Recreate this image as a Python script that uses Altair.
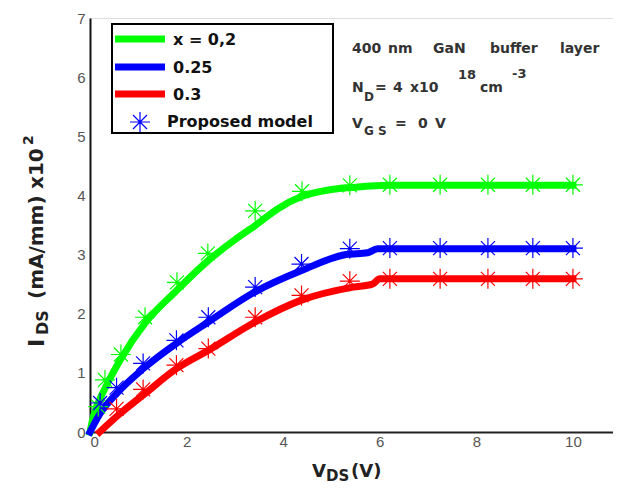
import altair as alt
import pandas as pd

# ---------------- data ----------------
v_green_line = [0, 0.07, 0.3, 0.62, 1.14, 1.79, 2.45, 3.0, 3.42, 3.9, 4.38, 5.0, 5.5, 6.2, 10]
i_green_line = [0, 0.26, 0.72, 1.21, 1.84, 2.39, 2.9, 3.25, 3.49, 3.78, 3.98, 4.1, 4.14, 4.17, 4.17]
v_blue_line = [0, 0.2, 0.55, 1.1, 1.79, 2.45, 3.42, 4.38, 5.3, 5.75, 5.95, 10]
i_blue_line = [0, 0.3, 0.65, 1.07, 1.5, 1.86, 2.37, 2.73, 3.0, 3.03, 3.1, 3.1]
v_red_line = [0.2, 0.62, 1.14, 1.79, 2.45, 3.42, 4.38, 5.45, 5.85, 6.0, 10]
i_red_line = [0, 0.31, 0.65, 1.07, 1.38, 1.86, 2.23, 2.45, 2.5, 2.59, 2.59]

v_green_pts = [0.17, 0.31, 0.64, 1.14, 1.80, 2.44, 3.42, 4.39, 5.38, 6.21, 7.25, 8.24, 9.17, 10.0]
i_green_pts = [0.43, 0.88, 1.31, 1.94, 2.53, 3.02, 3.74, 4.07, 4.17, 4.18, 4.18, 4.18, 4.18, 4.18]
v_blue_pts = [0.21, 0.55, 1.10, 1.79, 2.45, 3.42, 4.38, 5.38, 6.21, 7.25, 8.24, 9.17, 10.0]
i_blue_pts = [0.49, 0.75, 1.16, 1.55, 1.94, 2.45, 2.84, 3.10, 3.11, 3.11, 3.11, 3.11, 3.11]
v_red_pts = [0.55, 1.10, 1.79, 2.45, 3.42, 4.38, 5.38, 6.21, 7.25, 8.24, 9.17, 10.0]
i_red_pts = [0.39, 0.72, 1.13, 1.41, 1.94, 2.31, 2.55, 2.59, 2.59, 2.59, 2.59, 2.59]

series_names = ["0.2", "0.25", "0.3"]
series_colors = ["#00ff00", "#0000ff", "#ff0000"]
legend_labels = ["x = 0,2", "0.25", "0.3", "Proposed model"]
x_ticks = [0, 2, 4, 6, 8, 10]
y_ticks = [0, 1, 2, 3, 4, 5, 6, 7]

# ---------------- tables ----------------
lines = pd.concat([
    pd.DataFrame({"v": v_green_line, "i": i_green_line, "s": series_names[0]}),
    pd.DataFrame({"v": v_blue_line, "i": i_blue_line, "s": series_names[1]}),
    pd.DataFrame({"v": v_red_line, "i": i_red_line, "s": series_names[2]}),
])
pts = pd.concat([
    pd.DataFrame({"v": v_green_pts, "i": i_green_pts, "s": series_names[0]}),
    pd.DataFrame({"v": v_blue_pts, "i": i_blue_pts, "s": series_names[1]}),
    pd.DataFrame({"v": v_red_pts, "i": i_red_pts, "s": series_names[2]}),
])

STAR = "M0,-1L0,1M-1,0L1,0M-0.7,-0.7L0.7,0.7M-0.7,0.7L0.7,-0.7"
FONT = "DejaVu Sans"

xs = alt.Scale(domain=[0, 10.83], nice=False, zero=False)
ys = alt.Scale(domain=[0, 7], nice=False)
cs = alt.Scale(domain=series_names, range=series_colors)

xax = alt.Axis(values=x_ticks, title=None, grid=False, ticks=False, labelFontSize=15, format="d",
               labelFont="Liberation Sans", labelColor="#555", labelPadding=2,
               domainColor="#222", domainWidth=2)
yax = alt.Axis(values=y_ticks, title=None, grid=False, ticks=False, labelFontSize=15, format="d",
               labelFont="Liberation Sans", labelColor="#555", labelPadding=5,
               domainColor="#111", domainWidth=2)

line_layer = alt.Chart(lines).mark_line(strokeWidth=7, interpolate="monotone", strokeCap="square").encode(
    x=alt.X("v:Q", scale=xs, axis=xax),
    y=alt.Y("i:Q", scale=ys, axis=yax),
    color=alt.Color("s:N", scale=cs, legend=None),
    detail="s:N",
)
star_layer = alt.Chart(pts).mark_point(shape=STAR, filled=False, strokeWidth=1.2, size=400, opacity=1).encode(
    x=alt.X("v:Q", scale=xs),
    y=alt.Y("i:Q", scale=ys),
    color=alt.Color("s:N", scale=cs, legend=None),
)

one = pd.DataFrame({"k": [0]})


def txt(s, x, y, size, angle=None, align="left", baseline="alphabetic", color="#333", weight="bold", font=FONT):
    kw = dict(text=s, align=align, baseline=baseline, fontSize=size, font=font, fontWeight=weight, color=color)
    if angle is not None:
        kw["angle"] = angle
    return alt.Chart(one).mark_text(**kw).encode(x=alt.value(x), y=alt.value(y))


layers = [line_layer, star_layer]

# legend box
layers.append(alt.Chart(one).mark_rect(fill="white", stroke="black", strokeWidth=2).encode(
    x=alt.value(22), x2=alt.value(243), y=alt.value(6), y2=alt.value(115)))
for yy, col in zip([21, 49, 76], series_colors):
    layers.append(alt.Chart(one).mark_rule(color=col, strokeWidth=7).encode(
        x=alt.value(25), x2=alt.value(75), y=alt.value(yy)))
layers.append(alt.Chart(one).mark_point(shape=STAR, filled=False, strokeWidth=1.2, size=400,
                                        color="#0000ff", opacity=1).encode(
    x=alt.value(50), y=alt.value(104)))
for (lab, lx, ly) in zip(legend_labels, [83, 83, 83, 77], [22, 50, 77, 104]):
    layers.append(txt(lab, lx, ly, 16, baseline="middle", color="#111"))

# annotation
A = 14
layers += [
    txt("400", 262, 35, A), txt("nm", 298, 35, A), txt("GaN", 343, 35, A),
    txt("buffer", 400, 35, A), txt("layer", 470, 35, A),
    txt("N", 262, 74, A), txt("D", 274, 83, 12), txt("=", 285, 74, A), txt("4", 303, 74, A),
    txt("x10", 320, 74, A), txt("18", 368, 61, 13), txt("cm", 390, 74, A), txt("-3", 422, 60, 13),
    txt("V", 262, 110, A), txt("G S", 274, 117, 12), txt("=", 305, 110, A),
    txt("0", 328, 110, A), txt("V", 345, 110, A),
]

# axis titles
layers += [
    txt("V", 222, 459, 18, color="#222"), txt("DS", 236, 463, 15, color="#222"),
    txt("(V)", 261, 459, 18, color="#222"),
    txt("I", -53, 329, 22, angle=270, baseline="middle", color="#222"),
    txt("DS", -47, 317, 16, angle=270, baseline="middle", color="#222"),
    txt("(mA/mm)", -53, 281, 20, angle=270, baseline="middle", color="#222"),
    txt("x10", -53, 171, 20, angle=270, baseline="middle", color="#222"),
    txt("2", -61, 127, 14, angle=270, baseline="middle", color="#222"),
]

chart = alt.layer(*layers).properties(
    width=523, height=414,
    padding={"left": 82, "top": 10, "right": 0, "bottom": 54},
    autosize=alt.AutoSizeParams(type="none"),
).configure_view(stroke="#555", strokeWidth=1.5).configure(background="white")

chart.save("out.html", embed_options={"renderer": "svg", "actions": False})
